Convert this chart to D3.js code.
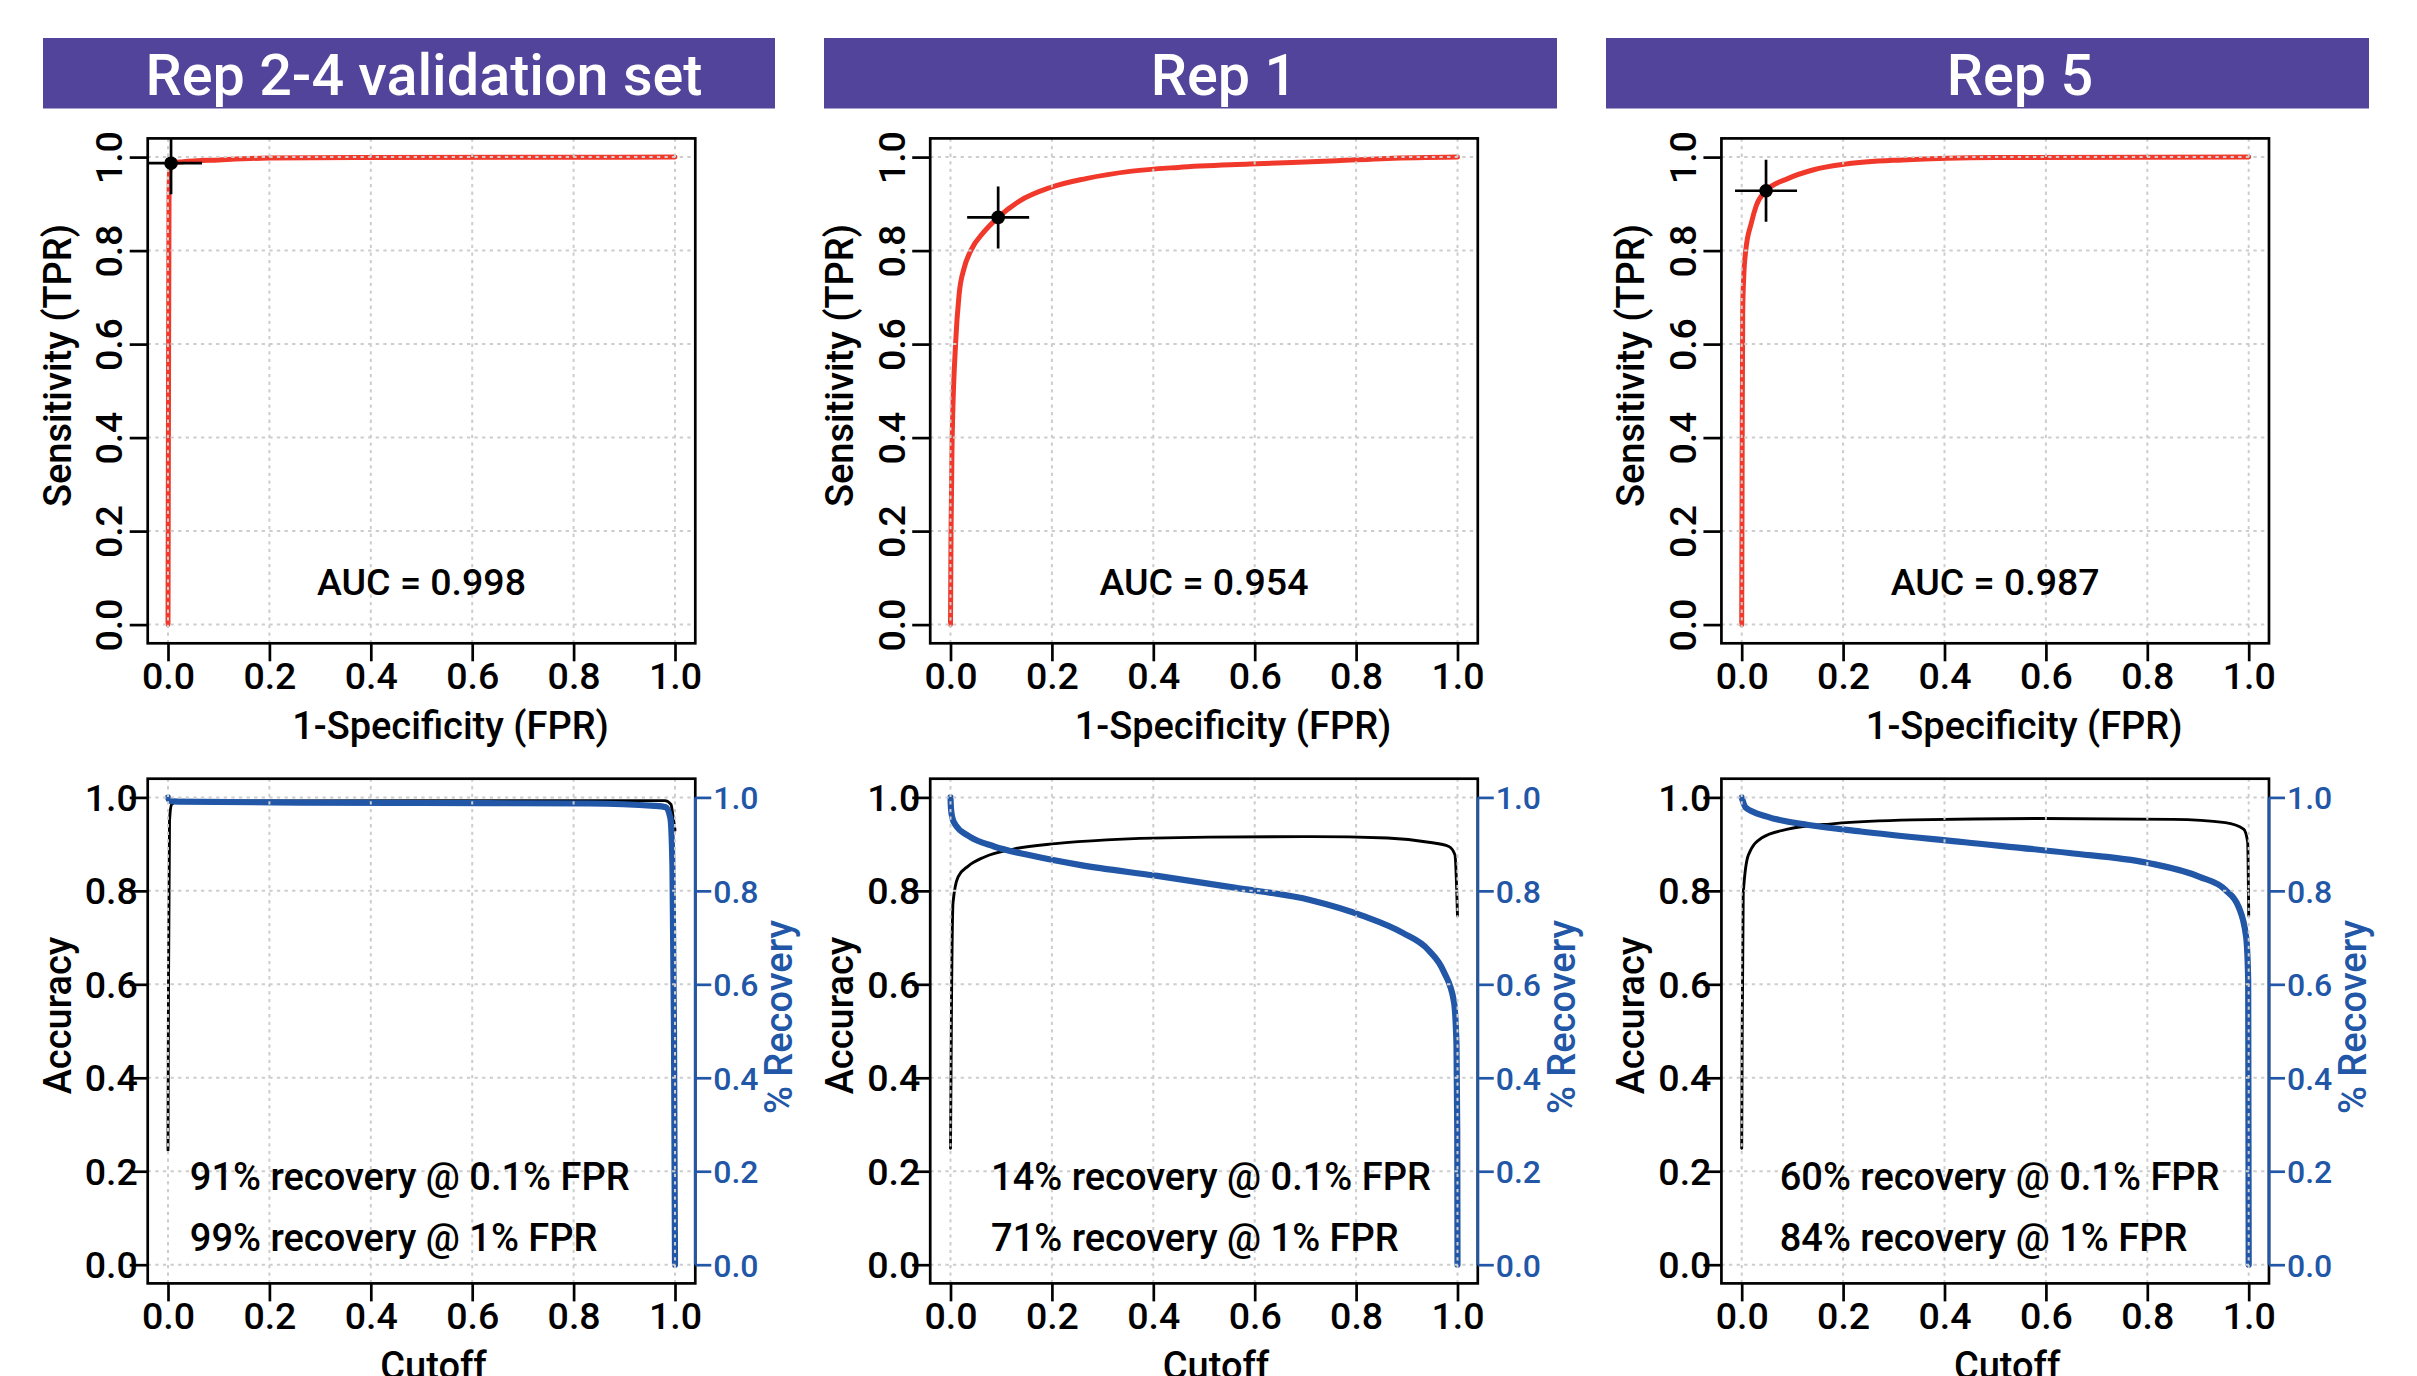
<!DOCTYPE html>
<html>
<head>
<meta charset="utf-8">
<script src="https://cdn.jsdelivr.net/npm/d3@7"></script>
<style>
  body { margin: 0; background: #fff; }
  text { font-family: Roboto, "DejaVu Sans", sans-serif; }
</style>
</head>
<body>
<svg id="chart" width="2417" height="1376"></svg>
<script>
// Panel labels and summary numbers
const panelTitles = ["Rep 2-4 validation set", "Rep 1", "Rep 5"];
const aucValues = ["0.998", "0.954", "0.987"];
const recoveryAt01 = ["91%", "14%", "60%"];
const recoveryAt1 = ["99%", "71%", "84%"];
const tickValues = [0, 0.2, 0.4, 0.6, 0.8, 1.0];

// ROC curves, [FPR, TPR]
const rocRep24 = [[0, 0], [0.001, 0.5], [0.002, 0.9], [0.003, 0.965], [0.006, 0.987], [0.03, 0.990], [0.1, 0.994], [0.2, 0.998], [0.4, 0.999], [1, 1]];
const rocRep1 = [[0, 0], [0.001, 0.19], [0.003, 0.38], [0.010, 0.6], [0.017, 0.706], [0.027, 0.763], [0.040, 0.8], [0.066, 0.840], [0.094, 0.871], [0.136, 0.906], [0.197, 0.935], [0.267, 0.954], [0.358, 0.970], [0.449, 0.978], [0.590, 0.985], [0.761, 0.992], [0.862, 0.997], [1, 1]];
const rocRep5 = [[0, 0], [0.001, 0.4], [0.002, 0.668], [0.004, 0.744], [0.008, 0.8], [0.019, 0.859], [0.029, 0.897], [0.048, 0.928], [0.091, 0.954], [0.142, 0.973], [0.204, 0.985], [0.317, 0.994], [0.5, 0.999], [1, 1]];

// chosen cutoff on each ROC curve, [FPR, TPR]
const cutPoints = [[0.006, 0.987], [0.094, 0.871], [0.048, 0.928]];

// accuracy vs cutoff
const accRep24 = [[0, 0.245], [0.001, 0.6], [0.003, 0.95], [0.007, 0.985], [0.02, 0.992], [0.5, 0.993], [0.98, 0.993], [0.992, 0.985], [0.996, 0.96], [1, 0.93]];
const accRep1 = [[0, 0.249], [0.002, 0.563], [0.005, 0.775], [0.015, 0.830], [0.035, 0.853], [0.066, 0.872], [0.126, 0.890], [0.207, 0.901], [0.308, 0.909], [0.509, 0.915], [0.711, 0.916], [0.862, 0.913], [0.943, 0.904], [0.983, 0.895], [0.995, 0.877], [1, 0.747]];
const accRep5 = [[0, 0.249], [0.001, 0.5], [0.003, 0.793], [0.013, 0.876], [0.039, 0.913], [0.091, 0.932], [0.183, 0.944], [0.337, 0.952], [0.594, 0.955], [0.851, 0.953], [0.954, 0.946], [0.990, 0.932], [0.998, 0.904], [1, 0.747]];

// % recovery vs cutoff
const recRep24 = [[0, 1], [0.003, 0.993], [0.02, 0.991], [0.26, 0.989], [0.5, 0.988], [0.83, 0.987], [0.96, 0.982], [0.982, 0.979], [0.991, 0.955], [0.995, 0.85], [0.998, 0.5], [1, 0]];
const recRep1 = [[0, 1], [0.001, 0.975], [0.004, 0.955], [0.010, 0.941], [0.035, 0.918], [0.086, 0.895], [0.157, 0.876], [0.257, 0.855], [0.408, 0.832], [0.560, 0.807], [0.711, 0.780], [0.812, 0.747], [0.892, 0.710], [0.943, 0.673], [0.973, 0.627], [0.993, 0.563], [0.998, 0.471], [0.9995, 0.286], [1, 0]];
const recRep5 = [[0, 1], [0.008, 0.978], [0.050, 0.959], [0.132, 0.941], [0.235, 0.927], [0.440, 0.904], [0.646, 0.881], [0.800, 0.860], [0.903, 0.830], [0.954, 0.802], [0.980, 0.766], [0.995, 0.701], [0.999, 0.609], [1, 0]];

const rocCurves = [rocRep24, rocRep1, rocRep5];
const accCurves = [accRep24, accRep1, accRep5];
const recCurves = [recRep24, recRep1, recRep5];

// layout
const plotLeft = [168, 950.5, 1741.7];
const plotW = 507;
const rocRange = [624.6, 157.1];
const accRange = [1264.7, 797.4];
const barX = [[43, 775], [824, 1557], [1606, 2369]];
const titleX = [424, 1224, 2020];
const noteX = [0.043, 0.08, 0.075];

const purple = "#52449b";
const red = "#f1392b";
const blue = "#2257a7";
const gridColor = "#cdcdcd";
const fmt = d3.format(".1f");

const svg = d3.select("#chart");
svg.append("rect").attr("width", 2417).attr("height", 1376).attr("fill", "#fff");
const defs = svg.append("defs");

const styleAxis = function (g, size, color) {
  g.attr("font-size", null).attr("font-family", null);
  g.select(".domain").remove();
  g.selectAll(".tick line").attr("stroke", color).attr("stroke-width", 2.7);
  g.selectAll(".tick text")
    .attr("fill", color)
    .attr("font-size", size)
    .attr("font-weight", 500);
};

const drawGrid = function (g, x, y) {
  const grid = g.append("g")
    .attr("stroke", gridColor)
    .attr("stroke-width", 2)
    .attr("stroke-dasharray", "3.3,4.3");
  grid.append("g").selectAll("line").data(tickValues).join("line")
    .attr("x1", d => x(d)).attr("x2", d => x(d))
    .attr("y1", y(-0.04)).attr("y2", y(1.04));
  grid.append("g").selectAll("line").data(tickValues).join("line")
    .attr("x1", x(-0.04)).attr("x2", x(1.04))
    .attr("y1", d => y(d)).attr("y2", d => y(d));
};

const drawBox = function (g, x, y) {
  g.append("rect")
    .attr("x", x(-0.04)).attr("y", y(1.04))
    .attr("width", x(1.04) - x(-0.04))
    .attr("height", y(-0.04) - y(1.04))
    .attr("fill", "none")
    .attr("stroke", "#000")
    .attr("stroke-width", 2.7);
};

const addClip = function (id, x, y) {
  defs.append("clipPath").attr("id", id)
    .append("rect")
    .attr("x", x(-0.04)).attr("y", y(1.04))
    .attr("width", x(1.04) - x(-0.04))
    .attr("height", y(-0.04) - y(1.04));
};

const bottomAxis = function (g, x, y) {
  const ax = g.append("g")
    .attr("transform", `translate(0,${y(-0.04)})`)
    .call(d3.axisBottom(x).tickValues(tickValues).tickSize(18).tickFormat(fmt));
  styleAxis(ax, 37.5, "#000");
  ax.selectAll(".tick text").attr("y", 46).attr("dy", null);
};

panelTitles.forEach((title, i) => {
  const x = d3.scaleLinear().domain([0, 1]).range([plotLeft[i], plotLeft[i] + plotW]);
  const yR = d3.scaleLinear().domain([0, 1]).range(rocRange);
  const yA = d3.scaleLinear().domain([0, 1]).range(accRange);
  const panel = svg.append("g");

  // title bar
  panel.append("rect")
    .attr("x", barX[i][0]).attr("y", 38)
    .attr("width", barX[i][1] - barX[i][0]).attr("height", 70.5)
    .attr("fill", purple);
  panel.append("text")
    .attr("x", titleX[i]).attr("y", 95)
    .attr("text-anchor", "middle")
    .attr("fill", "#fff")
    .attr("font-size", 57.5)
    .attr("font-weight", 500)
    .text(title);

  // ---- ROC plot
  const roc = panel.append("g");
  addClip("clip-roc-" + i, x, yR);
  const rocInner = roc.append("g").attr("clip-path", `url(#clip-roc-${i})`);

  rocInner.append("path")
    .datum(rocCurves[i])
    .attr("fill", "none")
    .attr("stroke", red)
    .attr("stroke-width", 5)
    .attr("stroke-linecap", "round")
    .attr("stroke-linejoin", "round")
    .attr("d", d3.line().x(d => x(d[0])).y(d => yR(d[1])).curve(d3.curveMonotoneX));

  drawGrid(rocInner, x, yR);

  // cutoff marker with cross
  const cp = cutPoints[i];
  const cross = rocInner.append("g").attr("stroke", "#000").attr("stroke-width", 2.7);
  cross.append("line")
    .attr("x1", x(cp[0]) - 31).attr("x2", x(cp[0]) + 31)
    .attr("y1", yR(cp[1])).attr("y2", yR(cp[1]));
  cross.append("line")
    .attr("x1", x(cp[0])).attr("x2", x(cp[0]))
    .attr("y1", yR(cp[1]) - 31).attr("y2", yR(cp[1]) + 31);
  rocInner.append("circle")
    .attr("cx", x(cp[0])).attr("cy", yR(cp[1]))
    .attr("r", 6.8).attr("fill", "#000");

  drawBox(roc, x, yR);
  bottomAxis(roc, x, yR);

  const rocLeft = roc.append("g")
    .attr("transform", `translate(${x(-0.04)},0)`)
    .call(d3.axisLeft(yR).tickValues(tickValues).tickSize(18).tickFormat(fmt));
  styleAxis(rocLeft, 37.5, "#000");
  rocLeft.selectAll(".tick text")
    .attr("x", 0).attr("dy", null)
    .attr("text-anchor", "middle")
    .attr("transform", "translate(-25.6,0) rotate(-90)");

  roc.append("text")
    .attr("transform", `translate(${x(-0.04) - 77},365.5) rotate(-90)`)
    .attr("text-anchor", "middle")
    .attr("font-size", 38).attr("font-weight", 500)
    .text("Sensitivity (TPR)");
  roc.append("text")
    .attr("x", x(0.5) + 29).attr("y", 739)
    .attr("text-anchor", "middle")
    .attr("font-size", 38).attr("font-weight", 500)
    .text("1-Specificity (FPR)");
  roc.append("text")
    .attr("x", x(0.5)).attr("y", yR(0.063))
    .attr("text-anchor", "middle")
    .attr("font-size", 37.5).attr("font-weight", 500)
    .text("AUC = " + aucValues[i]);

  // ---- accuracy / recovery plot
  const acc = panel.append("g");
  addClip("clip-acc-" + i, x, yA);
  const accInner = acc.append("g").attr("clip-path", `url(#clip-acc-${i})`);

  const line = d3.line().x(d => x(d[0])).y(d => yA(d[1])).curve(d3.curveMonotoneX);
  accInner.append("path")
    .datum(accCurves[i])
    .attr("fill", "none")
    .attr("stroke", "#000")
    .attr("stroke-width", 2.9)
    .attr("stroke-linecap", "round")
    .attr("stroke-linejoin", "round")
    .attr("d", line);
  accInner.append("path")
    .datum(recCurves[i])
    .attr("fill", "none")
    .attr("stroke", blue)
    .attr("stroke-width", 6.2)
    .attr("stroke-linecap", "round")
    .attr("stroke-linejoin", "round")
    .attr("d", line);

  drawGrid(accInner, x, yA);
  drawBox(acc, x, yA);
  bottomAxis(acc, x, yA);

  const accLeft = acc.append("g")
    .attr("transform", `translate(${x(-0.04)},0)`)
    .call(d3.axisLeft(yA).tickValues(tickValues).tickSize(18).tickFormat(fmt));
  styleAxis(accLeft, 37.5, "#000");
  accLeft.selectAll(".tick text").attr("x", -10).attr("dy", "0.35em");

  const accRight = acc.append("g")
    .attr("transform", `translate(${x(1.04)},0)`)
    .call(d3.axisRight(yA).tickValues(tickValues).tickSize(16).tickFormat(fmt));
  styleAxis(accRight, 32, blue);
  accRight.selectAll(".tick text").attr("x", 18).attr("dy", "0.36em");
  accRight.append("line")
    .attr("y1", yA(0)).attr("y2", yA(1))
    .attr("stroke", blue).attr("stroke-width", 2.8);

  acc.append("text")
    .attr("transform", `translate(${x(-0.04) - 77},1015.5) rotate(-90)`)
    .attr("text-anchor", "middle")
    .attr("font-size", 38).attr("font-weight", 500)
    .text("Accuracy");
  acc.append("text")
    .attr("transform", `translate(${x(1.04) + 97},1017) rotate(-90)`)
    .attr("text-anchor", "middle")
    .attr("fill", blue)
    .attr("font-size", 38).attr("font-weight", 500)
    .text("% Recovery");
  // cut by the bottom edge, as in the source figure
  acc.append("text")
    .attr("x", x(0.5) + 12).attr("y", 1379)
    .attr("text-anchor", "middle")
    .attr("font-size", 38).attr("font-weight", 500)
    .text("Cutoff");

  acc.append("text")
    .attr("x", x(noteX[i])).attr("y", yA(0.16))
    .attr("font-size", 38).attr("font-weight", 500)
    .text(recoveryAt01[i] + " recovery @ 0.1% FPR");
  acc.append("text")
    .attr("x", x(noteX[i])).attr("y", yA(0.03))
    .attr("font-size", 38).attr("font-weight", 500)
    .text(recoveryAt1[i] + " recovery @ 1% FPR");
});
</script>
</body>
</html>
